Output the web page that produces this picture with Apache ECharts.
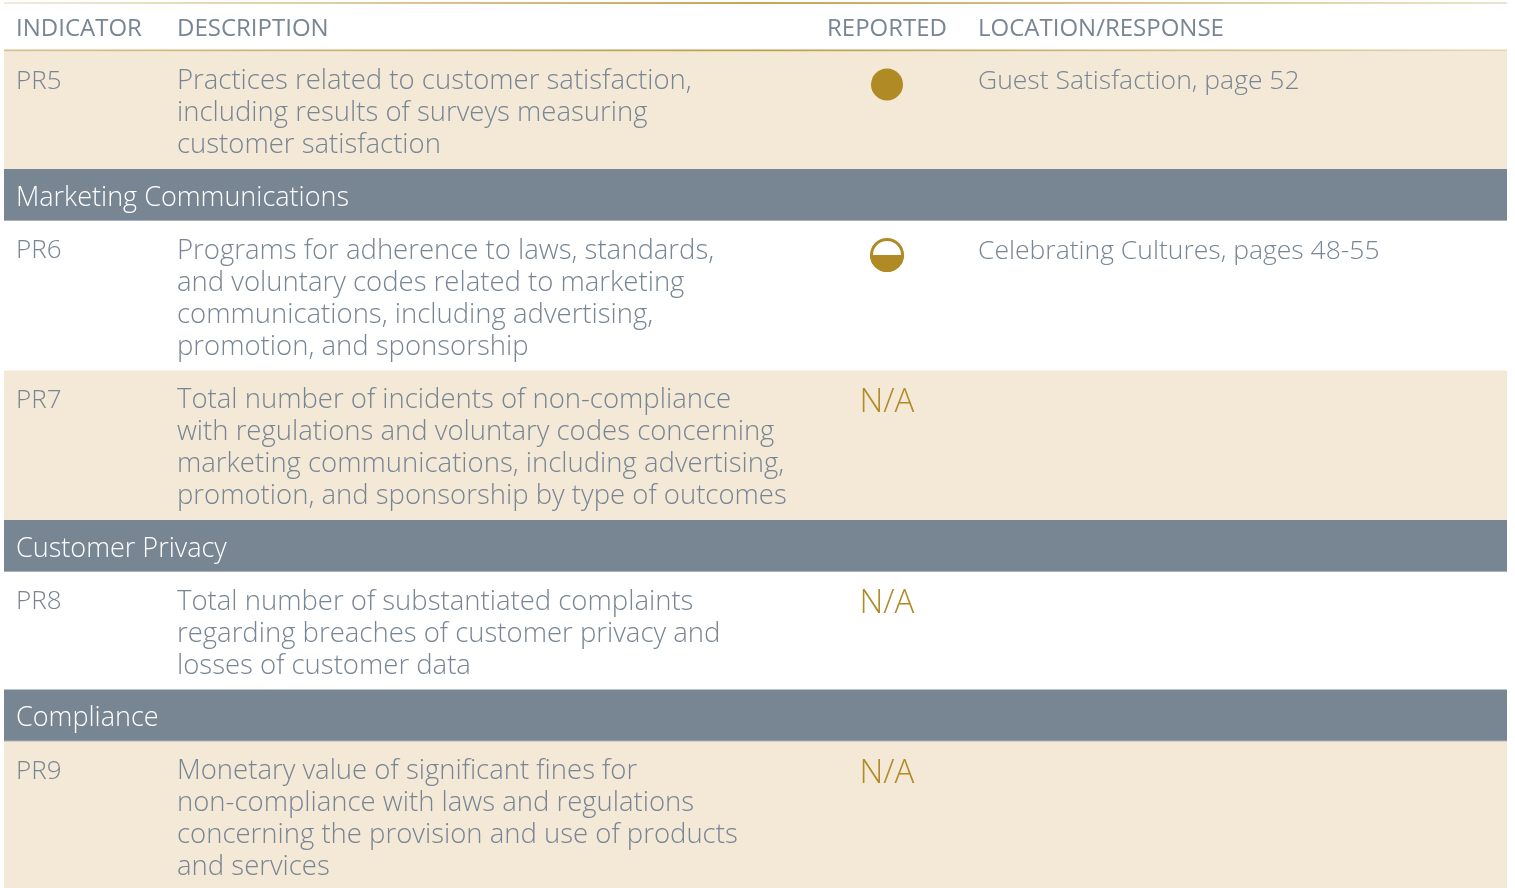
<!DOCTYPE html>
<html><head><meta charset="utf-8">
<script src="https://cdn.jsdelivr.net/npm/echarts@6/dist/echarts.min.js"></script>
<style>html,body{margin:0;padding:0;background:#fff}#c{width:1515px;height:888px}</style>
</head><body><div id="c"></div>
<script>
const headers = ['INDICATOR', 'DESCRIPTION', 'REPORTED', 'LOCATION/RESPONSE'];
const indicators = ['PR5', 'PR6', 'PR7', 'PR8', 'PR9'];
const descriptions = [
  ['Practices related to customer satisfaction,', 'including results of surveys measuring', 'customer satisfaction'],
  ['Programs for adherence to laws, standards,', 'and voluntary codes related to marketing', 'communications, including advertising,', 'promotion, and sponsorship'],
  ['Total number of incidents of non-compliance', 'with regulations and voluntary codes concerning', 'marketing communications, including advertising,', 'promotion, and sponsorship by type of outcomes'],
  ['Total number of substantiated complaints', 'regarding breaches of customer privacy and', 'losses of customer data'],
  ['Monetary value of significant fines for', 'non-compliance with laws and regulations', 'concerning the provision and use of products', 'and services']
];
const reported = ['full', 'half', 'N/A', 'N/A', 'N/A'];
const locations = ['Guest Satisfaction, page 52', 'Celebrating Cultures, pages 48-55', '', '', ''];
const sections = ['Marketing Communications', 'Customer Privacy', 'Compliance'];
const sectionAfterRow = [0, 2, 3];

const FONT = '"Open Sans", Lato, sans-serif';
const TXT = '#788594';
const GOLD = '#b08a24';
const BEIGE = '#f4e8d6';
const BAND = '#788593';
const L = 4, R = 1507, W = R - L;
const colX = [16, 177, 887, 978];
const LH = 32;

const els = [];
els.push({type: 'rect', shape: {x: L, y: 2, width: W, height: 2}, style: {fill: new echarts.graphic.LinearGradient(0, 0, 1, 0, [{offset: 0, color: '#f1ebdc'}, {offset: 0.5, color: '#c8a555'}, {offset: 1, color: '#ede3cc'}])}});
headers.forEach((h, i) => {
  els.push({type: 'text', x: colX[i], y: 29, style: {text: h, fill: TXT, font: '400 24px ' + FONT, align: i === 2 ? 'center' : 'left', verticalAlign: 'middle'}});
});
els.push({type: 'rect', shape: {x: L, y: 49.5, width: W, height: 2}, style: {fill: new echarts.graphic.LinearGradient(0, 0, 1, 0, [{offset: 0, color: '#d9c08a'}, {offset: 0.5, color: '#c09a45'}, {offset: 1, color: '#e6d6b0'}])}});
let y = 51.5;
indicators.forEach((ind, i) => {
  const lines = descriptions[i];
  const h = LH * lines.length + 21.5 + (i === indicators.length - 1 ? 20 : 0);
  els.push({type: 'rect', shape: {x: L, y: y, width: W, height: h}, style: {fill: i % 2 === 0 ? BEIGE : '#ffffff'}});
  const ty = y + 30;
  els.push({type: 'text', x: colX[0], y: ty, style: {text: ind, fill: TXT, font: '300 26px ' + FONT, verticalAlign: 'middle'}});
  lines.forEach((ln, k) => {
    els.push({type: 'text', x: colX[1], y: ty + k * LH, style: {text: ln, fill: TXT, font: '300 27.5px ' + FONT, verticalAlign: 'middle'}});
  });
  const rep = reported[i];
  if (rep === 'full') {
    els.push({type: 'circle', shape: {cx: colX[2], cy: ty + 3, r: 16}, style: {fill: GOLD}});
  } else if (rep === 'half') {
    els.push({type: 'sector', shape: {cx: colX[2], cy: ty + 4, r: 17, r0: 0, startAngle: 0, endAngle: Math.PI}, style: {fill: GOLD}});
    els.push({type: 'circle', shape: {cx: colX[2], cy: ty + 4, r: 15.5}, style: {fill: 'none', stroke: GOLD, lineWidth: 3}});
  } else {
    els.push({type: 'text', x: colX[2], y: ty + 2, style: {text: rep, fill: GOLD, font: '300 33px ' + FONT, align: 'center', verticalAlign: 'middle'}});
  }
  if (locations[i]) {
    els.push({type: 'text', x: colX[3], y: ty, style: {text: locations[i], fill: TXT, font: '300 26.5px ' + FONT, verticalAlign: 'middle'}});
  }
  y += h;
  const s = sectionAfterRow.indexOf(i);
  if (s >= 0) {
    els.push({type: 'rect', shape: {x: L, y: y, width: W, height: 52}, style: {fill: BAND}});
    els.push({type: 'rect', shape: {x: L, y: y + 51, width: W, height: 1}, style: {fill: '#a9b1ba'}});
    els.push({type: 'text', x: colX[0], y: y + 29, style: {text: sections[s], fill: '#ffffff', font: '300 27px ' + FONT, verticalAlign: 'middle'}});
    y += 52;
  }
});

const chart = echarts.init(document.getElementById('c'));
chart.setOption({animation: false, graphic: {elements: els}});
</script></body></html>
